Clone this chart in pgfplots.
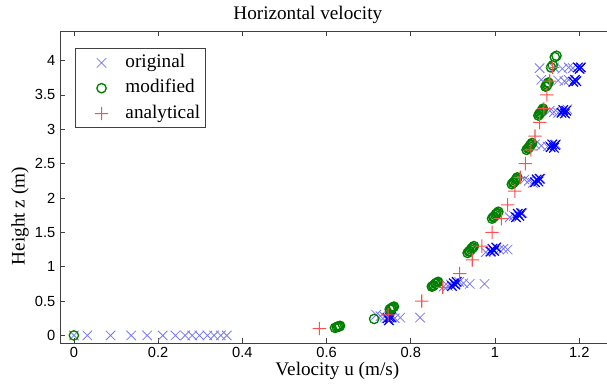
\documentclass[border=0pt]{standalone}
\usepackage{pgfplots}
\pgfplotsset{compat=1.18}
\usepackage{fontspec}
\setmainfont{Liberation Serif}
\setsansfont{Liberation Sans}
\definecolor{lightblue}{RGB}{120,120,255}
\definecolor{origblue}{RGB}{0,0,255}
\definecolor{modgreen}{RGB}{0,128,0}
\definecolor{anared}{RGB}{255,80,80}
\pgfdeclareplotmark{fplus}{%
  \pgfpathrectangle{\pgfqpoint{-\pgfplotmarksize}{-0.4pt}}{\pgfqpoint{2\pgfplotmarksize}{0.8pt}}%
  \pgfpathrectangle{\pgfqpoint{-0.4pt}{-\pgfplotmarksize}}{\pgfqpoint{0.8pt}{2\pgfplotmarksize}}%
  \pgfusepathqfill}
\begin{document}
\begin{tikzpicture}
\useasboundingbox (-45pt,-31.5pt) rectangle (410.25pt,257.25pt);
\begin{axis}[
  at={(0,0)}, anchor=south west,
  scale only axis, width=410.25pt, height=234pt,
  xmin=-0.033, xmax=1.266, ymin=-0.11, ymax=4.43,
  axis x line*=box, axis y line*=left,
  axis line style={black!75, line width=0.6pt},
  tick style={black!75, line width=0.5pt},
  tick align=inside, major tick length=3.5pt,
  xtick={0,0.2,0.4,0.6,0.8,1,1.2},
  ytick={0,0.5,1,1.5,2,2.5,3,3.5,4},
  xticklabels={0,0.2,0.4,0.6,0.8,1,1.2},
  yticklabels={0,0.5,1,1.5,2,2.5,3,3.5,4},
  ticklabel style={font=\sffamily\fontsize{11}{12}\selectfont},
  /pgf/number format/assume math mode=true,
  every axis title shift=0pt,
  title={Horizontal velocity},
  title style={font=\fontsize{14.4}{16}\selectfont, at={(axis description cs:0.453,1.051)}, anchor=center},
  xlabel={Velocity u (m/s)},
  xlabel style={font=\fontsize{14.4}{16}\selectfont, at={(axis description cs:0.507,-0.09)}, anchor=center},
  ylabel={Height z (m)},
  ylabel style={font=\fontsize{14.4}{16}\selectfont, at={(axis description cs:-0.073,0.407)}, anchor=center},
  legend style={at={(0.028,0.944)}, anchor=north west, draw=black!75, line width=0.6pt,
    inner xsep=2pt, inner ysep=1.5pt, font=\fontsize{14.4}{16}\selectfont,
    nodes={inner xsep=2pt, inner ysep=2.5pt, text height=10pt, text depth=3pt}, row sep=1pt},
  legend cell align=left,
  legend image code/.code={\path (0,0) (1.15cm,0); \draw[#1] plot coordinates {(0.6cm,0cm)};},
]
\addplot[only marks, draw=lightblue, color=lightblue, mark=x, mark size=5pt, mark options={draw=lightblue, line width=0.6pt}] coordinates {
(0,0) (0.032,0) (0.087,0) (0.136,0) (0.174,0) (0.211,0) (0.241,0) (0.264,0) (0.281,0) (0.298,0) (0.317,0) (0.333,0) (0.349,0) (0.363,0)
(0.718,0.30) (0.728,0.28) (0.738,0.27) (0.742,0.25) (0.755,0.26) (0.762,0.25) (0.775,0.26) (0.822,0.26)
(0.878,0.71) (0.888,0.72) (0.895,0.74) (0.915,0.78) (0.925,0.76) (0.940,0.75) (0.975,0.75)
(0.978,1.21) (0.988,1.22) (1.010,1.25) (1.020,1.26) (1.030,1.25)
(1.035,1.72) (1.045,1.74) (1.065,1.78)
(1.070,2.27) (1.080,2.25) (1.090,2.22) (1.108,2.28)
(1.095,2.78) (1.110,2.76) (1.125,2.75) (1.145,2.78)
(1.130,3.27) (1.140,3.25) (1.150,3.24) (1.172,3.29)
(1.110,3.72) (1.150,3.71) (1.165,3.70) (1.175,3.72)
(1.106,3.89) (1.140,3.90) (1.160,3.88) (1.175,3.90) (1.185,3.89)
};
\addlegendentry{original}
\addplot[only marks, forget plot, draw=origblue, color=origblue, mark=x, mark size=5pt, mark options={draw=origblue, line width=0.9pt}] coordinates {
(0.745,0.25) (0.750,0.26) (0.748,0.22) (0.753,0.27)
(0.898,0.72) (0.902,0.76) (0.906,0.74) (0.909,0.78)
(0.990,1.22) (0.994,1.26) (0.998,1.23) (1.003,1.28)
(1.050,1.72) (1.054,1.77) (1.058,1.74) (1.062,1.78)
(1.095,2.23) (1.099,2.27) (1.103,2.24) (1.106,2.28)
(1.132,2.74) (1.136,2.78) (1.140,2.73) (1.143,2.77)
(1.158,3.24) (1.162,3.28) (1.166,3.23) (1.169,3.27)
(1.186,3.69) (1.190,3.72) (1.193,3.70)
(1.197,3.90) (1.201,3.88) (1.204,3.90)
};
\addplot[only marks, draw=modgreen, color=modgreen, mark=o, mark size=3.5pt, mark options={draw=modgreen, line width=1pt}] coordinates {
(0,0)
(0.620,0.11) (0.624,0.12) (0.627,0.13) (0.630,0.13) (0.632,0.14)
(0.713,0.24)
(0.750,0.38) (0.753,0.39) (0.755,0.40) (0.758,0.41) (0.760,0.42)
(0.850,0.71) (0.853,0.72) (0.855,0.73) (0.858,0.75) (0.860,0.76) (0.863,0.77) (0.865,0.78)
(0.935,1.20) (0.938,1.22) (0.940,1.23) (0.943,1.25) (0.945,1.27) (0.948,1.28) (0.950,1.30)
(0.993,1.70) (0.996,1.72) (0.998,1.73) (1.001,1.75) (1.003,1.77) (1.006,1.78) (1.008,1.80)
(1.040,2.20) (1.043,2.22) (1.045,2.23) (1.048,2.25) (1.050,2.27) (1.052,2.28) (1.053,2.30)
(1.075,2.70) (1.078,2.72) (1.080,2.73) (1.082,2.75) (1.084,2.77) (1.086,2.78) (1.088,2.80)
(1.103,3.20) (1.105,3.22) (1.107,3.23) (1.109,3.25) (1.111,3.27) (1.113,3.28) (1.114,3.30)
(1.120,3.62) (1.122,3.63) (1.124,3.65) (1.126,3.67) (1.127,3.68)
(1.133,3.90) (1.137,3.93)
(1.142,4.05) (1.146,4.07)
};
\addlegendentry{modified}
\addplot[only marks, color=anared, fill=anared, mark=fplus, mark size=5pt, mark options={fill=anared, draw=none}] coordinates {
(0.583,0.1) (0.746,0.3) (0.826,0.5) (0.876,0.7) (0.916,0.9) (0.946,1.1) (0.969,1.3) (0.993,1.5) (1.015,1.7) (1.030,1.9)
(1.047,2.1) (1.060,2.3) (1.072,2.5) (1.085,2.7) (1.095,2.9) (1.106,3.1) (1.116,3.3) (1.123,3.5) (1.130,3.7) (1.137,3.9)
};
\addlegendentry{analytical}
\end{axis}
\end{tikzpicture}
\end{document}
